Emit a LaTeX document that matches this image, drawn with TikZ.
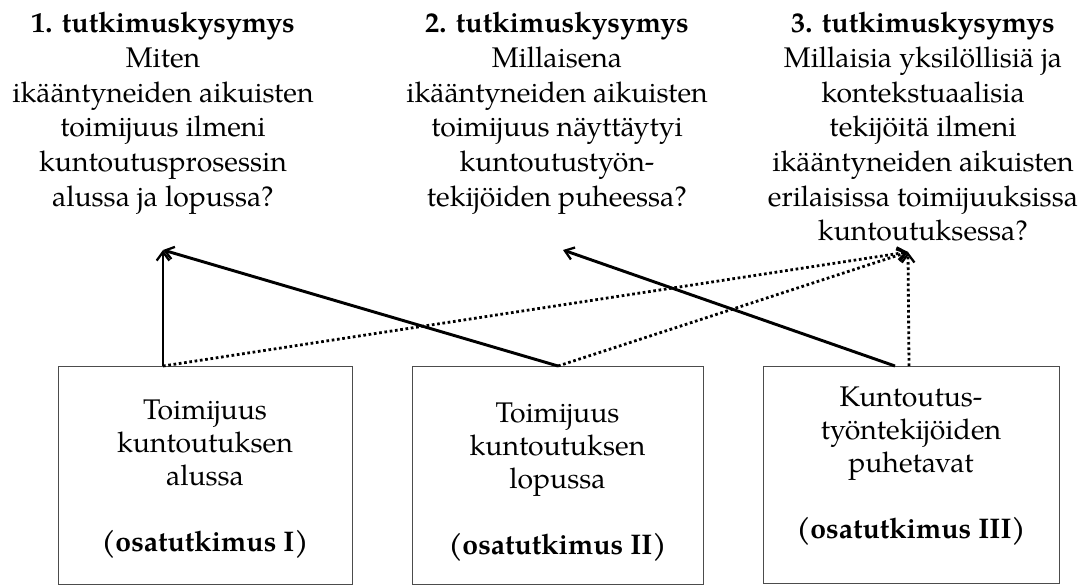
\documentclass[tikz,border=0pt]{standalone}
\usepackage{fontspec}
\setmainfont{texgyrepagella}[Extension=.otf, UprightFont=*-regular, BoldFont=*-bold]
\usetikzlibrary{arrows.meta,calc}
\begin{document}
\begin{tikzpicture}[x=0.75pt,y=-0.75pt,
  qtext/.style={anchor=north, inner sep=0pt, align=center, font=\fontsize{21.3}{26}\selectfont},
  boxnode/.style={draw=black!70, line width=0.8pt, anchor=north west, inner sep=0pt},
  btext/.style={anchor=north, inner sep=0pt, align=center, font=\fontsize{21.3}{24.75}\selectfont},
  tip/.style={-{Straight Barb[length=6.5pt,width=9.5pt,line width=1.7pt]}},
  solidarrow/.style={tip, line width=2.2pt},
  dotarrow/.style={tip, line width=2.1pt, dash pattern=on 2pt off 2pt}]
\useasboundingbox (0,0) rectangle (1086,585);
% questions
\node[qtext] (q1) at (163,12) {\textbf{1. tutkimuskysymys}\\Miten\\ikääntyneiden aikuisten\\toimijuus ilmeni\\kuntoutusprosessin\\alussa ja lopussa?};
\node[qtext] (q2) at (557,12) {\textbf{2. tutkimuskysymys}\\Millaisena\\ikääntyneiden aikuisten\\toimijuus näyttäytyi\\kuntoutustyön-\\tekijöiden puheessa?};
\node[qtext] (q3) at (923,12) {\textbf{3. tutkimuskysymys}\\Millaisia yksilöllisiä ja\\kontekstuaalisia\\tekijöitä ilmeni\\ikääntyneiden aikuisten\\erilaisissa toimijuuksissa\\kuntoutuksessa?};
% boxes
\node[boxnode, minimum width=220.5pt, minimum height=163.5pt] (b1) at (58,366) {};
\node[boxnode, minimum width=218.25pt, minimum height=163.5pt] (b2) at (412,366) {};
\node[boxnode, minimum width=222pt, minimum height=162.75pt] (b3) at (763,366) {};
\node[btext] (t1) at (205,400) {Toimijuus\\kuntoutuksen\\alussa\\[24.75pt]\textbf{(osatutkimus I)}};
\node[btext] (t2) at (557.5,403) {Toimijuus\\kuntoutuksen\\lopussa\\[24.75pt]\textbf{(osatutkimus II)}};
\node[btext] (t3) at (911,387) {Kuntoutus-\\työntekijöiden\\puhetavat\\[24.75pt]\textbf{(osatutkimus III)}};
% connector points
\coordinate (s1) at ($(b1.north west)+(105,0)$);
\coordinate (s2) at (b2.north);
\coordinate (s3a) at ($(b3.north west)+(132,0)$);
\coordinate (s3b) at ($(b3.north west)+(146,0)$);
\coordinate (e1) at (163,250);
\coordinate (e2) at (563,250);
\coordinate (e3) at (908,252);
% connectors
\draw[solidarrow] (s1) -- (e1);
\draw[solidarrow] (s2) -- (e1);
\draw[solidarrow] (s3a) -- (e2);
\draw[dotarrow] (s1) -- (e3);
\draw[dotarrow] (s2) -- (e3);
\draw[dotarrow] (s3b) -- (e3);
\end{tikzpicture}
\end{document}
